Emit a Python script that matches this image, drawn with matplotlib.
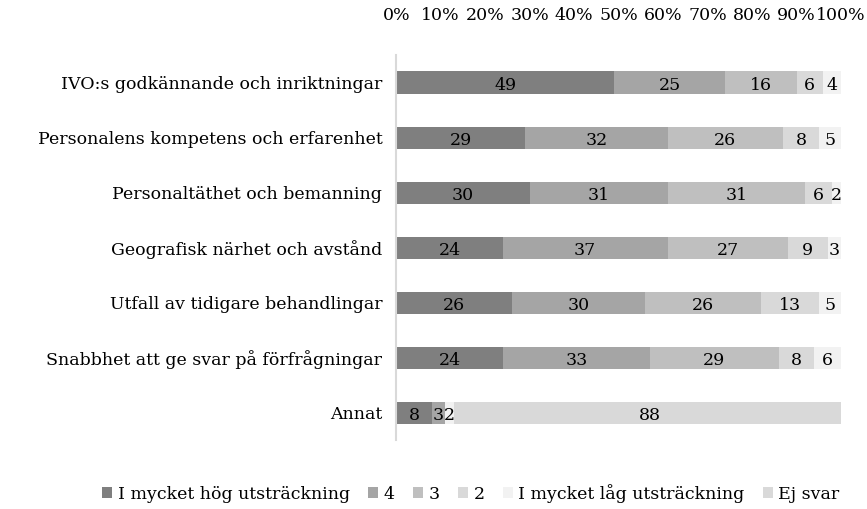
import numpy as np
import matplotlib
matplotlib.use("Agg")
import matplotlib.pyplot as plt

plt.rcParams['font.family'] = ['DejaVu Serif']

categories = ['IVO:s godkännande och inriktningar',
              'Personalens kompetens och erfarenhet',
              'Personaltäthet och bemanning',
              'Geografisk närhet och avstånd',
              'Utfall av tidigare behandlingar',
              'Snabbhet att ge svar på förfrågningar',
              'Annat']
series_names = ['I mycket hög utsträckning', '4', '3', '2',
                'I mycket låg utsträckning', 'Ej svar']
hog = [49, 29, 30, 24, 26, 24, 8]
s4 = [25, 32, 31, 37, 30, 33, 3]
s3 = [16, 26, 31, 27, 26, 29, 0]
s2 = [6, 8, 6, 9, 13, 8, 0]
lag = [4, 5, 2, 3, 5, 6, 2]
ej_svar = [0, 0, 0, 0, 0, 0, 88]
colors = ['#7f7f7f', '#a5a5a5', '#bfbfbf', '#d9d9d9', '#f2f2f2', '#d9d9d9']

data = [hog, s4, s3, s2, lag, ej_svar]
fs = 12.5

fig = plt.figure(figsize=(8.67, 5.09), dpi=100)
ax = fig.add_axes([0.457, 0.135, 0.513, 0.757])
y = np.arange(len(categories))
left = np.zeros(len(categories))
for vals, name, col in zip(data, series_names, colors):
    vals = np.array(vals, dtype=float)
    ax.barh(y, vals, left=left, height=0.4, color=col, label=name)
    for yi, (l, v) in enumerate(zip(left, vals)):
        if v > 0:
            ax.text(l + v / 2, yi + 0.05, '%d' % v, ha='center', va='center',
                    fontsize=fs, color='black')
    left += vals

ax.set_xlim(0, 100)
ax.set_ylim(len(categories) - 0.5, -0.5)
ax.set_yticks(y)
ax.set_yticklabels(categories, fontsize=fs)
ax.set_xticks(np.arange(0, 101, 10))
ax.set_xticklabels(['%d%%' % t for t in range(0, 101, 10)], fontsize=fs)
ax.xaxis.tick_top()
ax.tick_params(axis='both', length=0)
ax.tick_params(axis='x', pad=22)
ax.tick_params(axis='y', pad=10)
for s in ['top', 'right', 'bottom']:
    ax.spines[s].set_visible(False)
ax.spines['left'].set_color('#d9d9d9')
ax.spines['left'].set_linewidth(1.5)

fig.legend(loc='lower center', bbox_to_anchor=(0.543, -0.018), ncol=6, frameon=False,
           fontsize=fs, handlelength=0.6, handleheight=0.6, handletextpad=0.3,
           columnspacing=1.05)

fig.savefig('out.png', dpi=100)
